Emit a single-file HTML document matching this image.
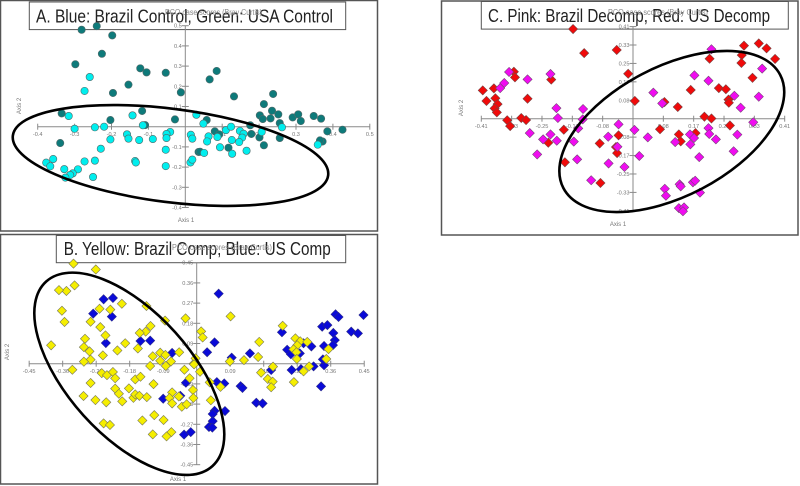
<!DOCTYPE html>
<html lang="en">
<head>
<meta charset="utf-8">
<title>PCO panels</title>
<style>
html,body{margin:0;padding:0;background:#fff;}
svg{display:block;filter:blur(0.35px);}
text{font-family:"Liberation Sans",sans-serif;}
.tick{font-size:5.6px;fill:#777;}
.axt{font-size:6px;fill:#777;}
.head{font-size:8.5px;fill:#888;}
.ttl{font-size:18.5px;fill:#222;}
</style>
</head>
<body>
<svg id="chart" width="800" height="486" viewBox="0 0 800 486" xmlns="http://www.w3.org/2000/svg">
  <rect width="800" height="486" fill="#fff"/>
  <rect x="0.5" y="0.5" width="377" height="230.5" fill="none" stroke="#555" stroke-width="1.5"/>
  <rect x="0.5" y="234.5" width="377" height="249.5" fill="none" stroke="#555" stroke-width="1.5"/>
  <rect x="441.5" y="1" width="356.5" height="234" fill="none" stroke="#555" stroke-width="1.5"/>

  <rect x="29.3" y="2" width="316.4" height="27.6" fill="#fff" stroke="#555" stroke-width="1"/>
  <text class="ttl" x="36" y="22.5" textLength="297" lengthAdjust="spacingAndGlyphs">A. Blue: Brazil Control, Green: USA Control</text>

  <rect x="56.3" y="235.5" width="289.4" height="27.2" fill="#fff" stroke="#555" stroke-width="1"/>
  <text class="ttl" x="63.7" y="255" textLength="267" lengthAdjust="spacingAndGlyphs">B. Yellow: Brazil Comp, Blue: US Comp</text>

  <rect x="481.3" y="1.5" width="307" height="27.6" fill="#fff" stroke="#555" stroke-width="1"/>
  <text class="ttl" x="488" y="22" textLength="282" lengthAdjust="spacingAndGlyphs">C. Pink: Brazil Decomp, Red: US Decomp</text>

  <text class="head" x="165" y="15" textLength="97" lengthAdjust="spacingAndGlyphs">PCO case scores (Bray Curtis)</text>
  <text class="head" x="172" y="250" textLength="100" lengthAdjust="spacingAndGlyphs">PCO case scores (Bray Curtis)</text>
  <text class="head" x="608" y="15" textLength="100" lengthAdjust="spacingAndGlyphs">PCO case scores (Bray Curtis)</text>

  <g id="panels"></g>
  <ellipse cx="170.5" cy="155.5" rx="158.9" ry="46.7" transform="rotate(7.2 170.5 155.5)" fill="none" stroke="#000" stroke-width="2.6"/>
  <ellipse cx="129.3" cy="373.8" rx="124.2" ry="61.9" transform="rotate(48 129.3 373.8)" fill="none" stroke="#000" stroke-width="2.6"/>
  <ellipse cx="671.8" cy="131.5" rx="122.3" ry="64.6" transform="rotate(-27.6 671.8 131.5)" fill="none" stroke="#000" stroke-width="2.6"/>
</svg>
<script>
const aTicksX = [-0.4,-0.3,-0.2,-0.1,0.1,0.2,0.3,0.4,0.5];
const aTickLabelsX = ["-0.4","-0.3","-0.2","-0.1","0.1","0.2","0.3","0.4","0.5"];
const aTicksY = [0.5,0.4,0.3,0.2,0.1,-0.1,-0.2,-0.3,-0.4];
const aTickLabelsY = ["0.5","0.4","0.3","0.2","0.1","-0.1","-0.2","-0.3","-0.4"];
const aGreen = [[-0.281,0.480],[-0.240,0.498],[-0.198,0.452],[-0.226,0.361],[-0.298,0.309],[-0.122,0.289],[-0.105,0.269],[-0.053,0.267],[-0.154,0.208],[-0.196,0.167],[-0.012,0.170],[-0.117,0.078],[-0.203,0.033],[-0.028,0.036],[-0.335,0.066],[-0.109,0.008],[-0.339,-0.081],[0.036,-0.125],[0.085,0.276],[0.066,0.234],[0.132,0.150],[0.238,0.162],[0.213,0.112],[0.235,0.079],[0.202,0.056],[0.210,0.038],[0.231,0.041],[0.252,0.061],[0.291,0.046],[0.306,0.061],[0.313,0.028],[0.348,0.053],[0.368,0.040],[0.256,0.018],[0.176,0.007],[0.385,-0.023],[0.426,-0.015],[0.179,-0.036],[0.201,-0.053],[0.256,-0.056],[0.213,-0.092],[0.372,-0.073],[0.365,-0.068],[0.117,-0.104],[0.040,-0.124],[0.058,0.033],[0.080,-0.023],[0.092,-0.038]];
const aBlue = [[-0.259,0.246],[-0.273,0.177],[-0.316,0.053],[-0.143,0.056],[0.030,0.059],[-0.300,-0.010],[-0.245,-0.003],[-0.220,0],[-0.115,0.007],[-0.158,-0.038],[-0.154,-0.059],[-0.203,-0.063],[-0.125,-0.066],[-0.088,-0.061],[-0.041,-0.026],[-0.051,-0.036],[-0.051,-0.056],[-0.053,-0.114],[-0.229,-0.109],[0.015,-0.040],[0.019,-0.059],[-0.358,-0.160],[-0.377,-0.178],[-0.366,-0.196],[-0.328,-0.210],[-0.291,-0.211],[-0.305,-0.231],[-0.312,-0.239],[-0.325,-0.252],[-0.273,-0.172],[-0.245,-0.168],[-0.250,-0.249],[-0.136,-0.170],[-0.134,-0.177],[-0.053,-0.195],[0.014,-0.177],[0.019,-0.163],[0.049,0.015],[0.110,-0.017],[0.124,0],[0.148,-0.021],[0.158,-0.035],[0.154,-0.054],[0.146,-0.076],[0.126,-0.066],[0.087,-0.051],[0.063,-0.048],[0.059,-0.073],[0.094,-0.102],[0.127,-0.134],[0.166,-0.119],[0.051,-0.130],[0.207,-0.026],[0.262,-0.003],[0.359,-0.089]];

const bTicksX = [-0.45,-0.36,-0.27,-0.18,-0.09,0.09,0.18,0.27,0.36,0.45];
const bTickLabelsX = ["-0.45","-0.36","-0.27","-0.18","-0.09","0.09","0.18","0.27","0.36","0.45"];
const bTicksY = [0.45,0.36,0.27,0.18,0.09,-0.09,-0.18,-0.27,-0.36,-0.45];
const bTickLabelsY = ["0.45","0.36","0.27","0.18","0.09","-0.09","-0.18","-0.27","-0.36","-0.45"];
const bBlue = [[-0.250,0.287],[-0.225,0.293],[-0.278,0.223],[-0.228,0.210],[-0.244,0.092],[-0.151,0.101],[-0.125,0.103],[-0.066,0.048],[-0.029,-0.085],[-0.090,-0.156],[-0.044,-0.143],[-0.034,-0.316],[-0.016,-0.305],[0.059,0.312],[0.048,0.095],[0.028,0.051],[0.094,0.027],[0.143,0.046],[0.054,-0.082],[0.074,-0.088],[0.118,-0.100],[0.123,-0.108],[0.160,-0.174],[0.177,-0.177],[0.076,-0.211],[0.048,-0.210],[0.043,-0.224],[0.043,-0.256],[0.033,-0.282],[0.042,-0.285],[0.229,0.140],[0.243,0.062],[0.253,0.042],[0.277,0.046],[0.287,0.091],[0.308,0.077],[0.200,-0.028],[0.255,-0.028],[0.280,-0.024],[0.314,-0.012],[0.342,-0.007],[0.339,0.019],[0.334,-0.101],[0.342,0.079],[0.337,0.165],[0.351,0.172],[0.373,0.220],[0.381,0.208],[0.367,0.137],[0.371,0.105],[0.366,0.083],[0.415,0.143],[0.433,0.135],[0.448,0.217]];
const bYellow = [[-0.331,0.446],[-0.271,0.420],[-0.328,0.349],[-0.350,0.324],[-0.370,0.328],[-0.201,0.267],[-0.135,0.257],[-0.261,0.245],[-0.232,0.241],[-0.362,0.236],[-0.030,0.202],[-0.085,0.192],[-0.355,0.186],[-0.285,0.187],[-0.259,0.163],[-0.124,0.168],[-0.137,0.143],[-0.153,0.137],[-0.245,0.126],[-0.300,0.111],[-0.391,0.082],[-0.192,0.091],[-0.303,0.074],[-0.288,0.055],[-0.213,0.059],[-0.158,0.068],[-0.252,0.037],[-0.098,0.049],[-0.084,0.039],[-0.047,0.051],[-0.118,0.033],[-0.285,0.018],[-0.303,0.009],[-0.098,0.013],[-0.069,0.010],[-0.125,-0.010],[-0.083,-0.010],[-0.334,-0.027],[-0.255,-0.042],[-0.241,-0.051],[-0.225,-0.037],[-0.219,-0.065],[-0.165,-0.070],[-0.151,-0.058],[-0.285,-0.086],[-0.116,-0.091],[-0.033,-0.027],[-0.019,-0.065],[-0.008,0],[-0.003,0.024],[0.009,-0.036],[-0.219,-0.111],[-0.182,-0.110],[-0.209,-0.134],[-0.304,-0.144],[-0.272,-0.162],[-0.243,-0.172],[-0.200,-0.168],[-0.170,-0.152],[-0.165,-0.137],[-0.154,-0.143],[-0.134,-0.149],[-0.066,-0.128],[-0.073,-0.153],[-0.066,-0.177],[-0.048,-0.146],[-0.010,-0.117],[-0.009,-0.153],[-0.040,-0.192],[-0.027,-0.181],[-0.146,-0.253],[-0.114,-0.229],[-0.089,-0.251],[-0.250,-0.266],[-0.233,-0.273],[-0.118,-0.315],[-0.068,-0.305],[-0.081,-0.324],[0.012,0.144],[0.016,0.117],[0.091,0.211],[0.168,0.097],[0.231,0.169],[0.127,0.016],[0.165,0.030],[0.089,0.010],[0.205,-0.013],[0.173,-0.040],[0.191,-0.068],[0.204,-0.080],[0.200,-0.105],[0.265,0.113],[0.278,0.100],[0.297,0.097],[0.270,0.082],[0.260,0.064],[0.268,0.051],[0.269,0.021],[0.354,0.065],[0.348,0.021],[0.302,-0.012],[0.287,-0.034],[0.261,-0.082],[0.035,-0.083],[0.064,-0.103],[0.038,-0.163],[-0.007,-0.003]];

const cTicksX = [-0.41,-0.328,-0.246,-0.164,-0.082,0.082,0.164,0.246,0.328,0.41];
const cTickLabelsX = ["-0.41","-0.33","-0.25","-0.17","-0.08","0.08","0.17","0.25","0.33","0.41"];
const cTicksY = [0.41,0.328,0.246,0.164,0.082,-0.082,-0.164,-0.246,-0.328,-0.41];
const cTickLabelsY = ["0.41","0.33","0.25","0.17","0.08","-0.08","-0.17","-0.25","-0.33","-0.41"];
const cRed = [[-0.162,0.399],[-0.132,0.292],[-0.044,0.306],[-0.322,0.209],[-0.319,0.184],[-0.221,0.174],[-0.406,0.126],[-0.376,0.135],[-0.396,0.079],[-0.372,0.091],[-0.366,0.065],[-0.374,0.046],[-0.368,0.028],[-0.285,0.089],[-0.340,-0.007],[-0.332,-0.033],[-0.302,0.003],[-0.289,-0.006],[-0.187,-0.049],[-0.229,-0.107],[-0.090,-0.110],[-0.184,-0.194],[-0.088,-0.286],[-0.039,-0.074],[-0.046,-0.126],[-0.043,-0.153],[-0.013,0.200],[0.005,0.079],[0.085,0.074],[0.121,0.052],[0.156,0.128],[0.232,0.136],[0.251,0.131],[0.258,0.085],[0.259,0.071],[0.207,0.267],[0.294,0.283],[0.293,0.248],[0.300,0.325],[0.340,0.335],[0.361,0.313],[0.384,0.266],[0.323,0.182],[0.193,0.009],[0.212,0.001],[0.262,-0.030],[0.073,-0.047],[0.124,-0.070],[0.129,-0.101],[0.169,-0.064]];
const cPink = [[-0.335,0.208],[-0.223,0.199],[-0.285,0.175],[-0.348,0.159],[-0.359,0.136],[-0.207,0.047],[-0.135,0.043],[-0.203,0.003],[-0.136,-0.003],[-0.148,-0.043],[-0.279,-0.064],[-0.223,-0.070],[-0.243,-0.092],[-0.206,-0.098],[-0.160,-0.102],[-0.259,-0.159],[-0.151,-0.181],[-0.067,-0.080],[-0.066,-0.199],[-0.113,-0.274],[-0.039,-0.025],[-0.042,-0.125],[0.212,0.309],[0.349,0.223],[0.166,0.193],[0.204,0.169],[0.055,0.116],[0.079,0.068],[0.274,0.102],[0.340,0.098],[0.291,0.049],[0.325,-0.016],[0.004,-0.050],[0.040,-0.083],[0.204,-0.042],[0.206,-0.068],[0.224,-0.092],[0.282,-0.071],[0.272,-0.145],[0.154,-0.070],[0.165,-0.086],[0.155,-0.114],[0.114,-0.104],[0.179,-0.171],[0.017,-0.166],[-0.023,-0.215],[0.086,-0.312],[0.089,-0.343],[0.126,-0.292],[0.129,-0.301],[0.162,-0.283],[0.168,-0.276],[0.181,-0.329],[0.124,-0.398],[0.138,-0.395],[0.135,-0.412]];

const NS = "http://www.w3.org/2000/svg";
const root = document.getElementById("panels");

function make(parent, tag, attrs) {
  const el = document.createElementNS(NS, tag);
  for (const k in attrs) el.setAttribute(k, attrs[k]);
  parent.appendChild(el);
  return el;
}

function drawPanel(id, geo, xTicks, xLabels, yTicks, yLabels, series) {
  const g = make(root, "g", {});
  
  
  const xAxis = v => geo.x0 + v * geo.sx;
  const yAxis = v => geo.y0 - v * geo.sy;
  const axisColor = "#8a8a8a";

  const hLine = make(g, "line", {x1: xAxis(xTicks[0]), x2: xAxis(xTicks[xTicks.length - 1]), y1: geo.y0, y2: geo.y0, stroke: axisColor, "stroke-width": 1});
  
  
  const vLine = make(g, "line", {x1: geo.x0, x2: geo.x0, y1: yAxis(yTicks[0]), y2: yAxis(yTicks[yTicks.length - 1]), stroke: axisColor, "stroke-width": 1});
  
  

  xTicks.forEach((v, i) => {
    const px = xAxis(v);
    const t = make(g, "line", {x1: px, x2: px, y1: geo.y0 - 3, y2: geo.y0 + 3, stroke: axisColor, "stroke-width": 1});
    
    
    const l = make(g, "text", {class: "tick", x: px, y: geo.y0 + 9.5, "text-anchor": "middle"});
    l.textContent = xLabels[i];
    
    
  });
  yTicks.forEach((v, i) => {
    const py = yAxis(v);
    const t = make(g, "line", {x1: geo.x0 - 3.5, x2: geo.x0 + 3.5, y1: py, y2: py, stroke: axisColor, "stroke-width": 1});
    
    
    const l = make(g, "text", {class: "tick", x: geo.x0 - 3.5, y: py + 2, "text-anchor": "end"});
    l.textContent = yLabels[i];
    
    
  });

  const xt = make(g, "text", {class: "axt", x: geo.xTitle[0], y: geo.xTitle[1], "text-anchor": "middle"});
  xt.textContent = "Axis 1";
  
  
  const yt = make(g, "text", {class: "axt", x: 0, y: 0, "text-anchor": "middle", transform: "translate(" + geo.yTitle[0] + " " + geo.yTitle[1] + ") rotate(-90)"});
  yt.textContent = "Axis 2";
  
  

  series.forEach(s => {
    s.points.forEach(p => {
      const px = xAxis(p[0]), py = yAxis(p[1]);
      let m;
      if (s.shape === "circle") {
        m = make(g, "circle", {cx: px, cy: py, r: 3.7, fill: s.color, stroke: "#4f6a6a", "stroke-width": 0.6});
      } else {
        const d = 4.6;
        m = make(g, "polygon", {points: [px, py - d, px + d, py, px, py + d, px - d, py].join(" "), fill: s.color, stroke: s.edge, "stroke-width": 0.6});
      }
      
      
    });
  });
}

drawPanel("panel-a",
  {x0: 185.3, sx: 369, y0: 126.7, sy: 202, xTitle: [186, 222], yTitle: [21, 106]},
  aTicksX, aTickLabelsX, aTicksY, aTickLabelsY,
  [{name: "usa-control", shape: "circle", color: "#0e7a7a", points: aGreen},
   {name: "brazil-control", shape: "circle", color: "#00eeee", points: aBlue}]);

drawPanel("panel-b",
  {x0: 196.7, sx: 372.3, y0: 363.7, sy: 224.4, xTitle: [178, 481], yTitle: [9, 352]},
  bTicksX, bTickLabelsX, bTicksY, bTickLabelsY,
  [{name: "us-comp", shape: "diamond", color: "#0a0ad8", edge: "#2a2a88", points: bBlue},
   {name: "brazil-comp", shape: "diamond", color: "#f5ee00", edge: "#777755", points: bYellow}]);

drawPanel("panel-c",
  {x0: 633, sx: 370, y0: 118.7, sy: 224.7, xTitle: [618, 226], yTitle: [463, 108]},
  cTicksX, cTickLabelsX, cTicksY, cTickLabelsY,
  [{name: "us-decomp", shape: "diamond", color: "#f00a0a", edge: "#774444", points: cRed},
   {name: "brazil-decomp", shape: "diamond", color: "#f00cf0", edge: "#774477", points: cPink}]);
</script>
</body>
</html>
